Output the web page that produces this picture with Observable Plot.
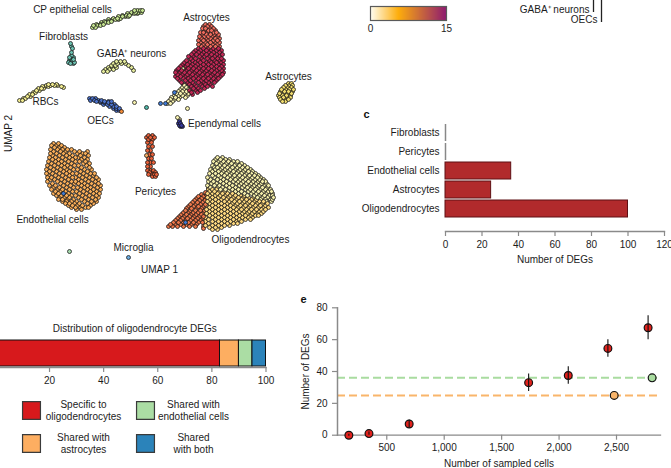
<!DOCTYPE html>
<html><head><meta charset="utf-8">
<script src="https://cdn.jsdelivr.net/npm/d3@7"></script>
<script src="https://cdn.jsdelivr.net/npm/@observablehq/plot@0.6"></script>
<style>html,body{margin:0;padding:0;background:#fff}#root{position:relative;width:671px;height:468px;overflow:hidden;background:#fff}</style>
</head><body><div id="root"></div>
<script>
// UMAP clusters, each row is [umap2, umap1, umap1, ...]
const endothelial = [[143,53,58],[145,51,56,61],[147,54,59,64],[149,50,57,62,67,71],[151,53,60,65,74,79,87],[153,50,56,63,69,77,82,85],[155,52,59,66,72,80,88],[157,49,55,62,69,75,78,84],[159,52,58,65,72,81,87],[161,48,55,61,68,75,79,85],[163,51,58,64,71,83,89],[165,47,54,61,67,74,78,86],[167,50,57,64,70,81,89],[169,46,53,60,66,73,77,84,91],[171,49,56,63,69,80,87],[173,46,52,59,66,72,76,83,90,94],[175,48,55,62,69,79,86,93],[177,47,51,58,65,72,75,82,89,96],[179,50,54,61,68,78,85,92,98],[181,47,57,64,71,75,81,88,95],[183,52,60,67,74,78,84,91,98],[185,49,55,63,70,81,87,94,100],[187,53,59,66,73,77,84,90,97],[189,51,57,62,69,80,87,93,100],[191,55,60,65,72,76,83,90,96],[193,53,58,63,68,79,86,93,99],[195,56,61,66,71,75,82,89,96],[197,59,64,69,78,85,92,98],[199,58,62,67,73,81,88,95],[201,62,66,71,76,84,91,96],[203,65,69,74,79,87,93],[205,68,72,77,82,90],[207,71,75,80,85,88],[209,76,81]];
const astroTop = [[24,205,209],[26,203,207,211],[28,202,205,209,213],[30,204,208,211,215],[32,200,203,207,213,216],[34,202,206,210,214,218],[36,199,204,208,212,217],[38,201,206,210,215,219],[40,198,203,208,213,217],[42,200,205,210,215,219],[44,198,203,207,212,217],[46,201,205,210,215,219]];
const astroMain = [[48,198,203,208,213,218],[50,195,200,206,211,216,221],[52,193,198,203,208,213,219],[54,191,196,201,206,211,216,222],[56,188,193,199,204,209,214,219],[58,190,195,201,207,212,217,221],[60,186,192,198,203,209,214,219,223],[62,184,189,195,200,206,211,216,221],[64,182,187,192,197,203,208,213,218,223],[66,180,185,190,195,200,205,211,216,221],[68,178,183,188,193,198,203,208,213,219,223],[70,176,181,186,191,196,201,206,211,216,221],[72,175,179,184,189,194,199,204,209,214,219,223],[74,177,182,187,192,197,202,207,212,217,222],[76,175,180,185,190,195,200,205,210,215,220],[78,177,183,188,193,198,203,208,213,218],[80,179,185,190,196,201,206,211,216],[82,181,187,192,198,203,208,214],[84,183,189,194,200,205,210],[86,185,191,196,202,207,212],[88,187,193,198,204],[90,189,195,200],[92,191,197],[94,192]];
const astroRight = [[83,288,291],[85,285,289,292],[87,283,287,291],[89,281,285,289,293],[91,280,284,288,292],[93,279,283,287,291],[95,278,282,286,290],[97,279,283,287,290],[99,280,284,288],[101,282,285]];
const oligoPale = [[157,217,222],[159,215,220,225,229],[161,213,218,223,228,233,237],[163,216,221,226,231,236,241],[165,212,219,224,229,234,239,244],[167,214,217,222,227,232,237,242,247],[169,210,215,220,225,230,235,240,245,250],[171,212,218,223,228,233,238,243,248,252],[173,209,215,221,226,231,236,241,246,251,255],[175,212,218,224,229,234,239,244,249,254,258],[177,207,214,220,227,232,237,242,247,252,257,260],[179,210,217,223,230,235,240,245,250,255,259,263],[181,208,213,220,226,233,238,243,248,253,258,262,265],[183,211,216,223,229,236,241,246,251,256,261,266],[185,207,214,219,226,232,239,244,249,254,259,264,268],[187,210,217,222,229,235,242,247,252,257,262,267],[189,220,225,232,238,245,250,255,260,265,270],[191,228,235,241,248,253,258,263,268,271],[193,238,244,251,256,261,266,272],[195,247,254,259,264,269,272],[197,257,262,267,273],[199,260,265,270,272],[201,266,271]];
const oligoYellow = [[189,208,212,216],[191,209,214,219,224],[193,207,212,217,222,227,232],[195,209,215,220,225,230,235,240,244],[197,207,212,218,223,228,233,238,243,248,253],[199,209,215,221,226,231,236,241,246,251,256],[201,207,212,218,224,229,234,239,244,249,254,259,263],[203,209,215,221,227,232,237,242,247,252,257,262,267],[205,206,212,218,224,230,235,240,245,250,255,260,265],[207,209,215,221,227,233,238,243,248,253,258,263,268],[209,206,212,218,224,230,236,241,246,251,256,261,265],[211,209,215,221,227,233,239,244,249,254,259,263],[213,206,212,218,224,230,236,242,247,252,257,261],[215,209,215,221,227,233,239,245,250,255,258],[217,205,212,218,224,230,236,242,248,252],[219,208,215,221,227,233,239,245,250],[221,205,212,218,224,230,236,241],[223,208,215,221,227,233,237],[225,205,212,218,224,229],[227,209,215,221],[229,212,217]];
const oligoOrange = [[188,208],[192,205],[194,201,206],[196,198,203],[198,196,201,206],[200,194,199,204],[202,192,197,202],[204,190,195,200,205],[206,188,193,198,203],[208,186,191,196,201],[210,185,190,195,200,204],[212,183,188,193,198,203],[214,181,186,191,196,201],[216,179,184,189,194,199,203],[218,177,182,187,192,197,202],[220,175,180,185,190,195,200],[222,173,178,183,188,193,198,202],[224,170,175,180,186,191,196],[226,168,172,177,183,189,195,203],[228,203]];
const pericytes = [[135,148,152],[137,146,150,154],[139,148,152],[142,147,151],[146,148,152],[150,147,150],[154,149,152],[158,148,151],[162,147,150,153],[166,147,150],[170,147,150,153],[172,149,152,155],[174,148,151,154,156],[176,152,155]];
const pericytePale = [[155,146]];
const cpEpithelial = [[27,92,95],[25,93,97,100],[24,96,100,103],[22,101,105,108],[21,104,108,111],[19,108,112,115,118],[18,113,117,120],[16,118,122,125,128],[15,122,126,129],[13,127,131,134,137],[12,131,135,138,141],[10,134,137,140,142]];
const gaba = [[71,103,107],[69,105,109,113],[67,108,112,116,131],[65,111,115,128],[63,113,117,121,125],[61,116,120,124],[70,133]];
const rbc = [[100,19,22],[98,23,25],[96,27,30],[94,29,32],[92,33,35],[90,36,39],[88,38,41,43],[86,42,45,48,61],[85,46,50,54,57],[84,48,52,56],[87,63]];
const fibroblast = [[43,70],[46,71],[48,72],[52,71],[55,71],[57,69,73],[59,71,73],[60,69,72],[62,68,71,74],[63,70,73]];
const oec = [[98,89,92,95],[100,90,94,98,101],[101,96,100,104],[102,100,104,108],[104,103,107,111,114],[101,108,111],[106,109,113,116],[108,113,116,119],[110,116,119]];
const oecTip = [[111,121]];
const paleTail = [[68,182],[85,184,188],[87,182,186],[89,180,184,188],[91,178,182,186,190],[93,176,180,184,188],[95,174,178,182,187],[97,171,175,179,185],[99,170,174,178],[101,168,172],[103,167,170],[108,187],[117,177],[119,179],[102,134]];
const blueSpots = [[92,174],[103,160,165],[222,185],[193,63]];
const ependymal = [[121,179],[123,180,178],[125,179,181],[126,180,182]];
const tealSpot = [[107,146]];
const microglia = [[257,128]];
const greenSpot = [[251,69]];

const clusterNames = ["Endothelial cells","Astrocytes (top)","Astrocytes (main)","Astrocytes (right)","Oligodendrocytes (pale)","Oligodendrocytes (yellow)","Oligodendrocytes (orange)","Pericytes","Pericytes (pale)","CP epithelial cells","GABA+ neurons","RBCs","Fibroblasts","OECs","OEC tip","Tail","Blue spots","Ependymal cells","Teal spot","Microglia","Green spot"];
const clusterRows = [endothelial,astroTop,astroMain,astroRight,oligoPale,oligoYellow,oligoOrange,pericytes,pericytePale,cpEpithelial,gaba,rbc,fibroblast,oec,oecTip,paleTail,blueSpots,ependymal,tealSpot,microglia,greenSpot];
const clusterColors = ["#f5ab58","#ec6a5c","#bf2855","#eeda6c","#f1eba8","#f9d57e","#ea764a","#e4603a","#f0a860","#c2e08e","#e2e99a","#f0ea8e","#6cc0b0","#4a70c8","#f08a38","#f4efae","#3f78d0","#35379c","#4fb4a6","#6aa8dc","#a8dcb0"];
const umapPoints = clusterRows.flatMap((rows,i)=>rows.flatMap(([y,...xs])=>xs.map(x=>({x,y,cluster:clusterNames[i]}))));
// Paint order of the points: stepped through the list so that no row sits on top of its neighbour
const paintOrder = new Map(umapPoints.map((d,i)=>[d,(i*397)%umapPoints.length]));
// Spots always stay on top of the large clusters
const topClusters = new Set(["Blue spots","OEC tip","Pericytes (pale)"]);
const paintedPoints = d3.sort(umapPoints,d=>(topClusters.has(d.cluster)?1e6:0)+paintOrder.get(d));

const umapLabels = ["CP epithelial cells","Fibroblasts","GABA\u207A neurons","Astrocytes","Astrocytes","RBCs","OECs","Ependymal cells","Pericytes","Endothelial cells","Oligodendrocytes","Microglia","UMAP 1"];
const umapLabelX = [72,63,131,206,288,45,100,224,155,52,250,133,159];
const umapLabelY = [9.5,36,53,17,76,101,120,123,191,219,239,247,269];

// Panel c
const cCategories = ["Fibroblasts","Pericytes","Endothelial cells","Astrocytes","Oligodendrocytes"];
const cValues = [0,0,36,25,100];
const cTicks = [0,20,40,60,80,100,120];
// Panel d
const dCategories = ["Specific to oligodendrocytes","Shared with astrocytes","Shared with endothelial cells","Shared with both"];
const dLine1 = ["Specific to","Shared with","Shared with","Shared"];
const dLine2 = ["oligodendrocytes","astrocytes","endothelial cells","with both"];
const dValues = [83,7,5,5];
const dColors = ["#d7191c","#fdae61","#abdda4","#2b83ba"];
const dColumns = [0,0,1,1];
const dRows = [0,1,0,1];
const dTicks = [20,40,60,80,100];
// Panel e
const eCells = [170,345,695,1735,2080,2425,2775];
const eDegs = [0,1,7,33,37.5,54.5,67.5];
const eErr = [0.6,1,2.5,5.5,5.5,5.5,7.5];
const eRefLabels = ["Endothelial cells","Astrocytes"];
const eRefCells = [2810,2480];
const eRefDegs = [36,25];
const eRefColors = ["#a9dca0","#f9b56b"];
// Panel b fragment
const bLabels = ["GABA\u207A neurons","OECs"];
const bValues = [12,22];
// Colour bar
const barStops = [0,5.5,15];
const barColors = ["#fffef2","#fdad0c","#8e1a70"];
const barTicks = [0,15];

const FONT = '"Liberation Sans", Arial, sans-serif';
const INK = "#1c1c1c", AXIS = "#8a8a8a";
const root = document.getElementById("root");
function style(left,top){return {position:"absolute",left:left+"px",top:top+"px",background:"transparent",overflow:"visible",fontFamily:FONT,fontSize:"10px",maxWidth:"none"};}
function add(left,top,opts){root.appendChild(Plot.plot({...opts,style:style(left,top)}));}

// Panel a: UMAP
add(0,0,{width:340,height:285,margin:0,
  x:{domain:[0,340],range:[0,340],axis:null},
  y:{domain:[0,285],range:[0,285],axis:null},
  color:{type:"ordinal",domain:clusterNames,range:clusterColors},
  marks:[
    Plot.dot(paintedPoints,{x:"x",y:"y",fill:"cluster",r:2,stroke:"#141414",strokeWidth:0.75}),
    Plot.text(umapLabels,{x:(d,i)=>umapLabelX[i],y:(d,i)=>umapLabelY[i],text:d=>d,fontSize:10,fill:INK}),
    Plot.text(["UMAP 2"],{x:()=>8,y:()=>133,rotate:-90,fontSize:10,fill:INK})
  ]});

// Colour bar
add(360,0,{width:100,height:40,marginLeft:10,marginRight:14,marginTop:6,marginBottom:20,
  x:{domain:[0,15]},
  color:{type:"linear",domain:barStops,range:barColors},
  marks:[
    Plot.barX(d3.range(0,15,15/76),{x1:d=>d,x2:d=>Math.min(15,d+0.4),fill:d=>d}),
    Plot.frame({stroke:"#5a5a5a",strokeWidth:1.2}),
    Plot.axisX({ticks:barTicks,tickSize:0,tickPadding:4,label:null,fontSize:10,color:INK})
  ]});

// Panel b fragment
add(510,0,{width:110,height:30,margin:0,
  x:{type:"point",domain:bLabels,range:[79,95]},
  y:{domain:[0,30],range:[0,30],axis:null},
  marks:[
    Plot.ruleX(bLabels,{x:d=>d,y1:0,y2:(d,i)=>bValues[i],stroke:"#222",strokeWidth:1.3}),
    Plot.text(bLabels,{x:d=>d,y:(d,i)=>bValues[i],text:d=>d,textAnchor:"end",dx:-4,dy:-3,fontSize:10,fill:INK}),
    Plot.axisX({ticks:[],label:null})
  ]});

// Panel c
const cData = cCategories.map((c,i)=>({c,v:cValues[i]}));
add(340,100,{width:331,height:170,marginLeft:105,marginRight:7,marginTop:20,marginBottom:39,
  x:{domain:[0,120]},
  y:{type:"band",domain:cCategories,range:[20,120],padding:0.13},
  marks:[
    Plot.barX(cData.filter(d=>d.v>0),{x:"v",y:"c",fill:"#b12a2c",stroke:"#5e1014",strokeWidth:1}),
    Plot.tickX(cData.filter(d=>d.v===0),{x:"v",y:"c",stroke:"#888",strokeWidth:1.5}),
    Plot.frame({anchor:"bottom",stroke:AXIS,strokeWidth:1.3}),
    Plot.axisX({ticks:cTicks,tickSize:5,tickPadding:4,stroke:AXIS,fill:INK,strokeWidth:1.2,fontSize:10,label:"Number of DEGs",labelAnchor:"center",labelArrow:"none",labelOffset:31}),
    Plot.axisY({tickSize:0,tickPadding:6,label:null,fontSize:10,fill:INK}),
    Plot.text(["c"],{frameAnchor:"top-left",dx:-82,dy:-10,fontWeight:"bold",fontSize:11,fill:"#111"})
  ]});

// Panel d
const dData = dCategories.map((c,i)=>({c,v:dValues[i]}));
add(0,310,{width:290,height:80,marginLeft:0,marginRight:24.5,marginTop:30,marginBottom:23,
  x:{domain:[0,100],range:[-5.1,265.5]},
  y:{axis:null},
  color:{type:"ordinal",domain:dCategories,range:dColors},
  marks:[
    Plot.barX(dData,Plot.stackX({x:"v",fill:"c",stroke:"#111",strokeWidth:1,order:null,insetBottom:1})),
    Plot.frame({anchor:"bottom",stroke:AXIS,strokeWidth:1.3}),
    Plot.axisX({ticks:dTicks,tickSize:5,tickPadding:4,stroke:AXIS,fill:INK,strokeWidth:1.2,fontSize:10,label:null}),
    Plot.text(["Distribution of oligodendrocyte DEGs"],{frameAnchor:"top",dy:-16,x:()=>51.5,fontSize:10,fill:INK})
  ]});

// Panel d legend
const textCol = i=>(52+110*dColumns[i])/114;
add(0,395,{width:290,height:73,margin:0,
  x:{domain:[0,1],range:[31,145]},
  y:{domain:[0,1],range:[15,48]},
  color:{type:"ordinal",domain:dCategories,range:dColors},
  marks:[
    Plot.dot(dCategories,{x:(d,i)=>dColumns[i],y:(d,i)=>dRows[i],fill:d=>d,symbol:"square",r:10.1,stroke:"#3a3a3a",strokeWidth:1.2}),
    Plot.text(dLine1,{x:(d,i)=>textCol(i),y:(d,i)=>dRows[i],text:d=>d,dy:-5.5,fontSize:10,fill:INK}),
    Plot.text(dLine2,{x:(d,i)=>textCol(i),y:(d,i)=>dRows[i],text:d=>d,dy:6,fontSize:10,fill:INK})
  ]});

// Panel e
const eData = eCells.map((x,i)=>({x,y:eDegs[i],e:eErr[i]}));
const eRef = eRefLabels.map((c,i)=>({c,x:eRefCells[i],y:eRefDegs[i],color:eRefColors[i]}));
add(290,285,{width:381,height:183,marginLeft:47,marginRight:11,marginTop:22.3,marginBottom:33.3,
  x:{domain:[71,2883]},
  y:{domain:[0,80]},
  color:{type:"identity"},
  marks:[
    Plot.ruleY(eRef,{y:"y",stroke:"color",strokeWidth:2,strokeDasharray:"8,4"}),
    Plot.frame({anchor:"left",stroke:AXIS,strokeWidth:1.5}),
    Plot.frame({anchor:"bottom",stroke:AXIS,strokeWidth:1.3}),
    Plot.axisX({ticks:[500,1000,1500,2000,2500],tickFormat:d3.format(","),tickSize:5,tickPadding:4,stroke:AXIS,fill:INK,strokeWidth:1.2,fontSize:10,label:"Number of sampled cells",labelAnchor:"center",labelArrow:"none",labelOffset:32}),
    Plot.axisY({ticks:[0,20,40,60,80],tickSize:5,tickPadding:5,stroke:AXIS,fill:INK,strokeWidth:1.2,fontSize:10,label:"Number of DEGs",labelAnchor:"center",labelArrow:"none",labelOffset:36}),
    Plot.dot(eRef,{x:"x",y:"y",fill:"color",r:3.9,stroke:"#111",strokeWidth:1.2}),
    Plot.dot(eData,{x:"x",y:"y",fill:"#e2211c",r:3.9,stroke:"#111",strokeWidth:1.2}),
    Plot.ruleX(eData,{x:"x",y1:d=>d.y-d.e,y2:d=>d.y+d.e,stroke:"#111",strokeWidth:1.1}),
    Plot.text(["e"],{frameAnchor:"top-left",dx:-37,dy:-13,fontWeight:"bold",fontSize:11,fill:"#111"})
  ]});
</script></body></html>
